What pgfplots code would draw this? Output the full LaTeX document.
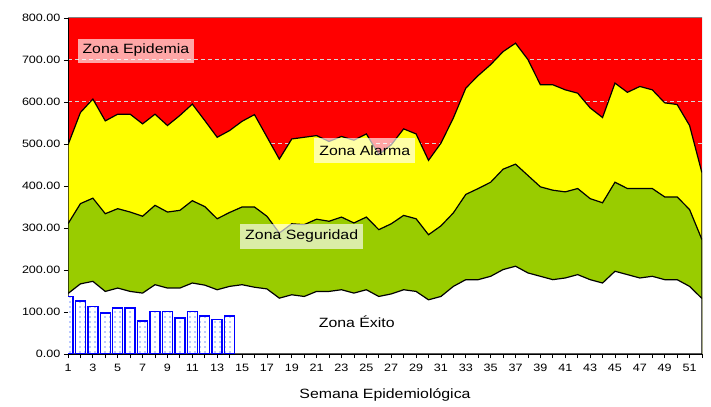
\documentclass[border=0pt]{standalone}
\usepackage{pgfplots}
\pgfplotsset{compat=1.18}
\usepackage{fontspec}
\setmainfont{Liberation Sans}[FakeStretch=1.18]
\usetikzlibrary{patterns.meta}
\definecolor{zred}{RGB}{255,0,0}
\definecolor{zyellow}{RGB}{255,255,0}
\definecolor{zgreen}{RGB}{153,204,0}
\definecolor{zgrid}{RGB}{215,215,215}
\definecolor{zblue}{RGB}{0,0,255}
\definecolor{zdot}{RGB}{120,150,255}
\begin{document}
\begin{tikzpicture}
\path[use as bounding box] (-68bp,-53bp) rectangle (643bp,354bp);
\begin{axis}[
  at={(0,0)}, anchor=south west,
  scale only axis, width=634bp, height=336bp,
  xmin=1, xmax=52, ymin=0, ymax=800,
  enlargelimits=false,
  axis lines*=left,
  axis line style={black, line width=1bp},
  axis background/.style={fill=zred},
  xtick={1,3,...,51}, minor xtick={2,4,...,52},
  ytick={0,100,...,800},
  tick align=outside,
  major tick length=4bp, minor tick length=4bp,
  tick style={black, line width=0.8bp},
  ymajorgrids,
  grid style={zgrid, line width=1bp, dash pattern=on 4bp off 3bp},
  /pgf/number format/assume math mode=true,
  yticklabel style={font=\fontsize{10.7}{12}\selectfont, /pgf/number format/.cd, fixed, fixed zerofill, precision=2, /tikz/.cd},
  xticklabel style={font=\fontsize{10.7}{12}\selectfont, yshift=-3bp},
  every axis x label/.style={at={(axis description cs:0.5,0)}, anchor=center, yshift=-41bp, font=\fontsize{13.5}{15}\selectfont},
  xlabel={Semana Epidemiológica},
]
\draw[gray, line width=1bp] (rel axis cs:0,1) -- (rel axis cs:1,1) -- (rel axis cs:1,0);
% Zona Alarma upper limit
\addplot[draw=black, line width=1.2bp, fill=zyellow] coordinates {
(1,498)(2,575)(3,607)(4,555)(5,571)(6,571)(7,548)(8,571)(9,544)(10,568)
(11,595)(12,556)(13,516)(14,532)(15,554)(16,570)(17,517)(18,464)(19,512)(20,516)
(21,520)(22,506)(23,518)(24,509)(25,524)(26,475)(27,498)(28,536)(29,524)(30,461)
(31,502)(32,562)(33,633)(34,663)(35,689)(36,720)(37,740)(38,701)(39,641)(40,641)
(41,629)(42,621)(43,586)(44,563)(45,645)(46,623)(47,637)(48,629)(49,598)(50,594)
(51,544)(52,431)} \closedcycle;
% Zona Seguridad upper limit
\addplot[draw=black, line width=1.2bp, fill=zgreen] coordinates {
(1,310)(2,358)(3,371)(4,334)(5,346)(6,338)(7,328)(8,354)(9,338)(10,342)
(11,365)(12,351)(13,322)(14,337)(15,350)(16,350)(17,328)(18,288)(19,310)(20,308)
(21,321)(22,316)(23,326)(24,312)(25,326)(26,296)(27,310)(28,330)(29,322)(30,284)
(31,305)(32,336)(33,380)(34,394)(35,409)(36,440)(37,452)(38,425)(39,398)(40,390)
(41,386)(42,394)(43,370)(44,360)(45,409)(46,394)(47,394)(48,394)(49,374)(50,374)
(51,344)(52,272)} \closedcycle;
% Zona Exito upper limit
\addplot[draw=black, line width=1.2bp, fill=white] coordinates {
(1,144)(2,167)(3,173)(4,149)(5,157)(6,149)(7,145)(8,165)(9,157)(10,157)
(11,169)(12,164)(13,153)(14,161)(15,165)(16,159)(17,155)(18,133)(19,141)(20,137)
(21,149)(22,149)(23,153)(24,145)(25,153)(26,137)(27,143)(28,153)(29,149)(30,129)
(31,137)(32,161)(33,177)(34,177)(35,185)(36,201)(37,209)(38,193)(39,185)(40,177)
(41,181)(42,189)(43,177)(44,169)(45,197)(46,189)(47,181)(48,185)(49,177)(50,177)
(51,161)(52,132)} \closedcycle;
% Casos observados
\addplot[ybar, bar width=10bp, draw=zblue, line width=1.5bp, fill=white,
  postaction={pattern color=zdot, pattern={Dots[distance=5bp, radius=0.8bp]}}] coordinates {
(1,137)(2,126)(3,113)(4,98)(5,110)(6,110)(7,78)(8,101)(9,101)(10,86)
(11,101)(12,90)(13,82)(14,90)};
\node[fill=white, fill opacity=0.65, text opacity=1, inner xsep=5bp, minimum height=24bp, font=\fontsize{13.5}{15}\selectfont] at (axis cs:6.46,722.6) {Zona Epidemia};
\node[fill=white, fill opacity=0.65, text opacity=1, inner xsep=5bp, minimum height=25bp, font=\fontsize{13.5}{15}\selectfont] at (axis cs:24.87,484.5) {Zona Alarma};
\node[fill=white, fill opacity=0.65, text opacity=1, inner xsep=5bp, minimum height=25bp, font=\fontsize{13.5}{15}\selectfont] at (axis cs:19.8,280) {Zona Seguridad};
\node[font=\fontsize{13.5}{15}\selectfont] at (axis cs:24.23,77) {Zona Éxito};
\end{axis}
\end{tikzpicture}
\end{document}
